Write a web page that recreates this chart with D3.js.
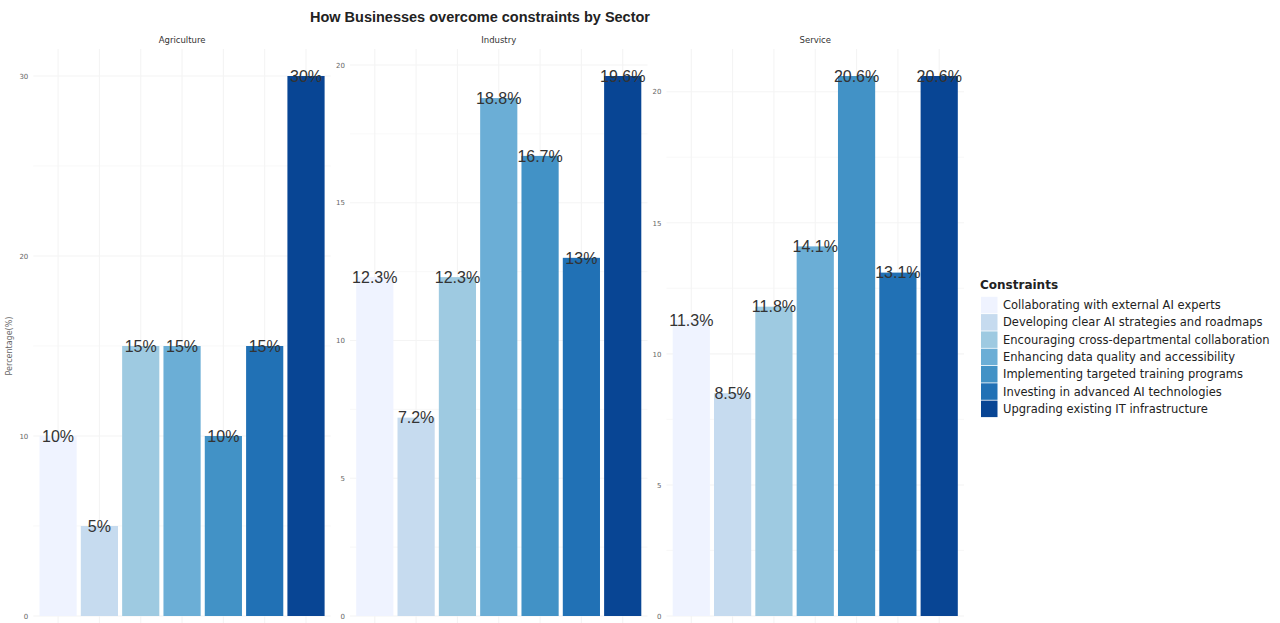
<!DOCTYPE html>
<html>
<head>
<meta charset="utf-8">
<script src="https://cdn.jsdelivr.net/npm/d3@7"></script>
<style>
  html, body { margin: 0; padding: 0; background: #ffffff; }
  svg { display: block; font-family: "Liberation Sans", Arial, sans-serif; }
</style>
</head>
<body>
<svg id="chart" width="1280" height="623"></svg>
<script>
// Constraint categories (legend order) and one value list per sector
const constraints = [
  "Collaborating with external AI experts",
  "Developing clear AI strategies and roadmaps",
  "Encouraging cross-departmental collaboration",
  "Enhancing data quality and accessibility",
  "Implementing targeted training programs",
  "Investing in advanced AI technologies",
  "Upgrading existing IT infrastructure"
];
const sectors = ["Agriculture", "Industry", "Service"];
const agricultureValues = [10, 5, 15, 15, 10, 15, 30];
const industryValues = [12.3, 7.2, 12.3, 18.8, 16.7, 13, 19.6];
const serviceValues = [11.3, 8.5, 11.8, 14.1, 20.6, 13.1, 20.6];
const agricultureTicks = [0, 10, 20, 30];
const industryTicks = [0, 5, 10, 15, 20];
const serviceTicks = [0, 5, 10, 15, 20];
const palette = ["#eff3ff", "#c6dbef", "#9ecae1", "#6baed6", "#4292c6", "#2171b5", "#084594"];

const panels = [
  { name: sectors[0], values: agricultureValues, ticks: agricultureTicks },
  { name: sectors[1], values: industryValues, ticks: industryTicks },
  { name: sectors[2], values: serviceValues, ticks: serviceTicks }
];

const svg = d3.select("#chart");
const color = d3.scaleOrdinal().domain(constraints).range(palette);
const smallFont = "'DejaVu Sans', Verdana, sans-serif";

// Facet layout
const panelTop = 49, panelBottom = 643;
const panelWidth = 297.5;
const panelLefts = [33.3, 350, 666.5];
const gridColor = "#f4f4f4";

svg.append("text")
  .attr("x", 480).attr("y", 22)
  .attr("text-anchor", "middle")
  .attr("font-size", 14.5).attr("font-weight", "bold")
  .attr("fill", "#222")
  .text("How Businesses overcome constraints by Sector");

svg.append("text")
  .attr("transform", `translate(12,${(panelTop + panelBottom) / 2}) rotate(-90)`)
  .attr("text-anchor", "middle")
  .attr("font-family", smallFont)
  .attr("font-size", 8).attr("fill", "#666")
  .text("Percentage(%)");

panels.forEach((p, i) => {
  const left = panelLefts[i];
  const g = svg.append("g");
  const maxV = d3.max(p.values);
  const y = d3.scaleLinear().domain([-0.05 * maxV, 1.05 * maxV]).range([panelBottom, panelTop]);
  const x = d3.scaleBand().domain(constraints).range([left, left + panelWidth])
    .paddingInner(0.1).paddingOuter(0.15);

  // minor grid lines halfway between major ticks
  const step = p.ticks[1] - p.ticks[0];
  const minor = d3.range(p.ticks[0] + step / 2, 1.05 * maxV, step);
  g.selectAll(".minor").data(minor).join("line")
    .attr("x1", left).attr("x2", left + panelWidth)
    .attr("y1", d => y(d)).attr("y2", d => y(d))
    .attr("stroke", gridColor).attr("stroke-width", 0.6);
  g.selectAll(".major").data(p.ticks).join("line")
    .attr("x1", left).attr("x2", left + panelWidth)
    .attr("y1", d => y(d)).attr("y2", d => y(d))
    .attr("stroke", gridColor).attr("stroke-width", 1.1);
  g.selectAll(".vgrid").data(constraints).join("line")
    .attr("x1", d => x(d) + x.bandwidth() / 2).attr("x2", d => x(d) + x.bandwidth() / 2)
    .attr("y1", panelTop).attr("y2", panelBottom)
    .attr("stroke", gridColor).attr("stroke-width", 1.1);

  // y axis (labels only)
  const axis = d3.axisLeft(y).tickValues(p.ticks).tickSize(0).tickPadding(5);
  const ag = g.append("g").attr("transform", `translate(${left},0)`).call(axis);
  ag.select(".domain").remove();
  ag.selectAll("text").attr("font-size", 7).attr("fill", "#666")
    .attr("font-family", smallFont);

  // strip title
  g.append("text")
    .attr("x", left + panelWidth / 2).attr("y", 43)
    .attr("text-anchor", "middle")
    .attr("font-family", smallFont)
    .attr("font-size", 8.5).attr("fill", "#333")
    .text(p.name);

  const rows = constraints.map((c, k) => ({ c, v: p.values[k] }));
  g.selectAll(".bar").data(rows).join("rect")
    .attr("x", d => x(d.c)).attr("width", x.bandwidth())
    .attr("y", d => y(d.v)).attr("height", d => y(0) - y(d.v))
    .attr("fill", d => color(d.c));

  g.selectAll(".lbl").data(rows).join("text")
    .attr("x", d => x(d.c) + x.bandwidth() / 2)
    .attr("y", d => y(d.v))
    .attr("dy", "0.36em")
    .attr("text-anchor", "middle")
    .attr("font-size", 16).attr("fill", "#333")
    .text(d => d.v + "%");
});

// Legend
const legend = svg.append("g").attr("transform", "translate(980,0)");
legend.append("text")
  .attr("x", 0).attr("y", 289)
  .attr("font-family", smallFont)
  .attr("font-size", 12).attr("font-weight", "bold").attr("fill", "#222")
  .text("Constraints");
const rowStep = 17.3;
constraints.forEach((c, k) => {
  const cy = 305 + k * rowStep;
  legend.append("rect")
    .attr("x", 1).attr("y", cy - 8.2).attr("width", 16.5).attr("height", 16.5)
    .attr("fill", color(c));
  legend.append("text")
    .attr("x", 23).attr("y", cy).attr("dy", "0.35em")
    .attr("font-family", smallFont)
    .attr("font-size", 11.5).attr("fill", "#222")
    .text(c);
});
</script>
</body>
</html>
